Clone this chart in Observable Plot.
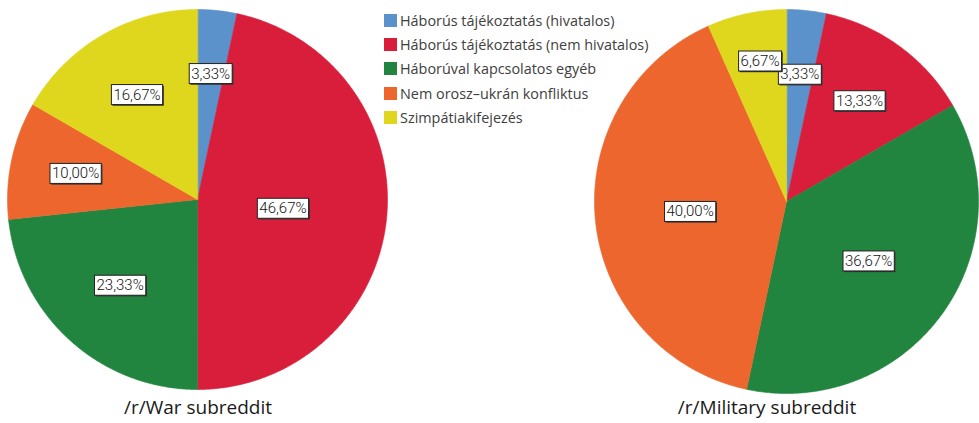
<!DOCTYPE html>
<html><head><meta charset="utf-8">
<script src="https://cdn.jsdelivr.net/npm/d3@7"></script>
<script src="https://cdn.jsdelivr.net/npm/@observablehq/plot@0.6"></script>
<style>
body{margin:0;background:#fff;}
#chart{position:relative;width:979px;height:423px;overflow:hidden;background:#fff;font-family:"Open Sans",sans-serif;}
.pie{position:absolute;}
.caption{position:absolute;top:396px;font-size:19px;line-height:22px;color:#1a1a1a;transform:translateX(-50%);white-space:nowrap;}
#legend{position:absolute;left:384px;top:8px;}
.item{display:flex;align-items:center;height:24.3px;font-size:14.4px;color:#404040;white-space:nowrap;}
.sw{width:13px;height:13px;margin-right:3px;flex:none;}
</style></head>
<body><div id="chart"></div>
<script>
const categories = [
  "Háborús tájékoztatás (hivatalos)",
  "Háborús tájékoztatás (nem hivatalos)",
  "Háborúval kapcsolatos egyéb",
  "Nem orosz–ukrán konfliktus",
  "Szimpátiakifejezés"
];
const colors = ["#5b92cc", "#d81e3a", "#22853f", "#ec662d", "#dfd71e"];
const warShares = [3.33, 46.67, 23.33, 10.00, 16.67];
const militaryShares = [3.33, 13.33, 36.67, 40.00, 6.67];
const pieTitles = ["/r/War subreddit", "/r/Military subreddit"];

const chart = document.getElementById("chart");

function slicesOf(shares) {
  const pts = [];
  const labels = [];
  let cum = 0;
  shares.forEach((v, i) => {
    const a0 = cum / 100 * 2 * Math.PI;
    const a1 = (cum + v) / 100 * 2 * Math.PI;
    const cat = categories[i];
    pts.push({x: 0, y: 0, cat});
    const n = Math.max(2, Math.ceil((a1 - a0) / (Math.PI / 360)));
    for (let k = 0; k <= n; k++) {
      const a = a0 + (a1 - a0) * k / n;
      pts.push({x: Math.sin(a), y: Math.cos(a), cat});
    }
    const h = (a1 - a0) / 2, mid = a0 + h;
    const d = 2 * Math.sin(h) / (3 * h);
    labels.push({x: d * Math.sin(mid), y: d * Math.cos(mid), cat,
      label: v.toFixed(2).replace(".", ",") + "%"});
    cum += v;
  });
  return {pts, labels};
}

function drawPie(shares, cx, cy, r) {
  const {pts, labels} = slicesOf(shares);
  const plot = Plot.plot({
    width: 2 * r + 2, height: 2 * r + 2, margin: 1,
    x: {domain: [-1, 1], axis: null},
    y: {domain: [-1, 1], axis: null},
    color: {domain: categories, range: colors},
    style: {background: "transparent", overflow: "visible"},
    marks: [
      Plot.line(pts, {x: "x", y: "y", z: "cat", fill: "cat", stroke: "cat", strokeWidth: 0.6, curve: "linear-closed"}),
      Plot.text(labels, {x: "x", y: "y", text: "label", fontSize: 15, fontWeight: 300, fontFamily: "Roboto", fill: "#111"})
    ]
  });
  const div = document.createElement("div");
  div.className = "pie";
  div.style.left = (cx - r - 1) + "px";
  div.style.top = (cy - r - 1) + "px";
  div.appendChild(plot);
  chart.appendChild(div);
  const ns = "http://www.w3.org/2000/svg";
  const boxes = [];
  plot.querySelectorAll('g[aria-label="text"] text').forEach(t => {
    const b = t.getBBox();
    const tr = t.getAttribute("transform") || "";
    const m = /translate\(([-\d.e]+),\s*([-\d.e]+)\)/.exec(tr);
    const tx = m ? +m[1] : 0, ty = m ? +m[2] : 0;
    const padX = 2, padY = 1;
    const box = {x0: tx + b.x - padX, x1: tx + b.x + b.width + padX, y0: ty + b.y - padY, y1: ty + b.y + b.height + padY};
    let shift = 0;
    for (const o of boxes) {
      if (box.x0 < o.x1 + 4 && box.x1 > o.x0 - 4 && box.y0 < o.y1 && box.y1 > o.y0) {
        shift = Math.min(shift, -(box.y1 - box.y0) * 0.8);
      }
    }
    box.y0 += shift; box.y1 += shift;
    boxes.push(box);
    const g = document.createElementNS(ns, "g");
    g.setAttribute("transform", `translate(0,${shift})`);
    t.parentNode.insertBefore(g, t);
    const shadow = document.createElementNS(ns, "rect");
    shadow.setAttribute("x", b.x - padX + 1.2);
    shadow.setAttribute("y", b.y - padY + 1.2);
    shadow.setAttribute("width", b.width + 2 * padX);
    shadow.setAttribute("height", b.height + 2 * padY);
    shadow.setAttribute("fill", "#333");
    shadow.setAttribute("transform", tr);
    const rect = document.createElementNS(ns, "rect");
    rect.setAttribute("x", b.x - padX);
    rect.setAttribute("y", b.y - padY);
    rect.setAttribute("width", b.width + 2 * padX);
    rect.setAttribute("height", b.height + 2 * padY);
    rect.setAttribute("fill", "#fff");
    rect.setAttribute("stroke", "#222");
    rect.setAttribute("stroke-width", 1);
    rect.setAttribute("transform", tr);
    g.appendChild(shadow);
    g.appendChild(rect);
    g.appendChild(t);
  });
}

drawPie(warShares, 197, 198.5, 190);
drawPie(militaryShares, 785.5, 201, 192);

const captionX = [198, 767];
pieTitles.forEach((t, i) => {
  const c = document.createElement("div");
  c.className = "caption";
  c.style.left = captionX[i] + "px";
  c.textContent = t;
  chart.appendChild(c);
});

const legend = document.createElement("div");
legend.id = "legend";
categories.forEach((c, i) => {
  const item = document.createElement("div");
  item.className = "item";
  const sw = document.createElement("span");
  sw.className = "sw";
  sw.style.background = colors[i];
  const lab = document.createElement("span");
  lab.textContent = c;
  item.appendChild(sw); item.appendChild(lab);
  legend.appendChild(item);
});
chart.appendChild(legend);
</script>
</body></html>
